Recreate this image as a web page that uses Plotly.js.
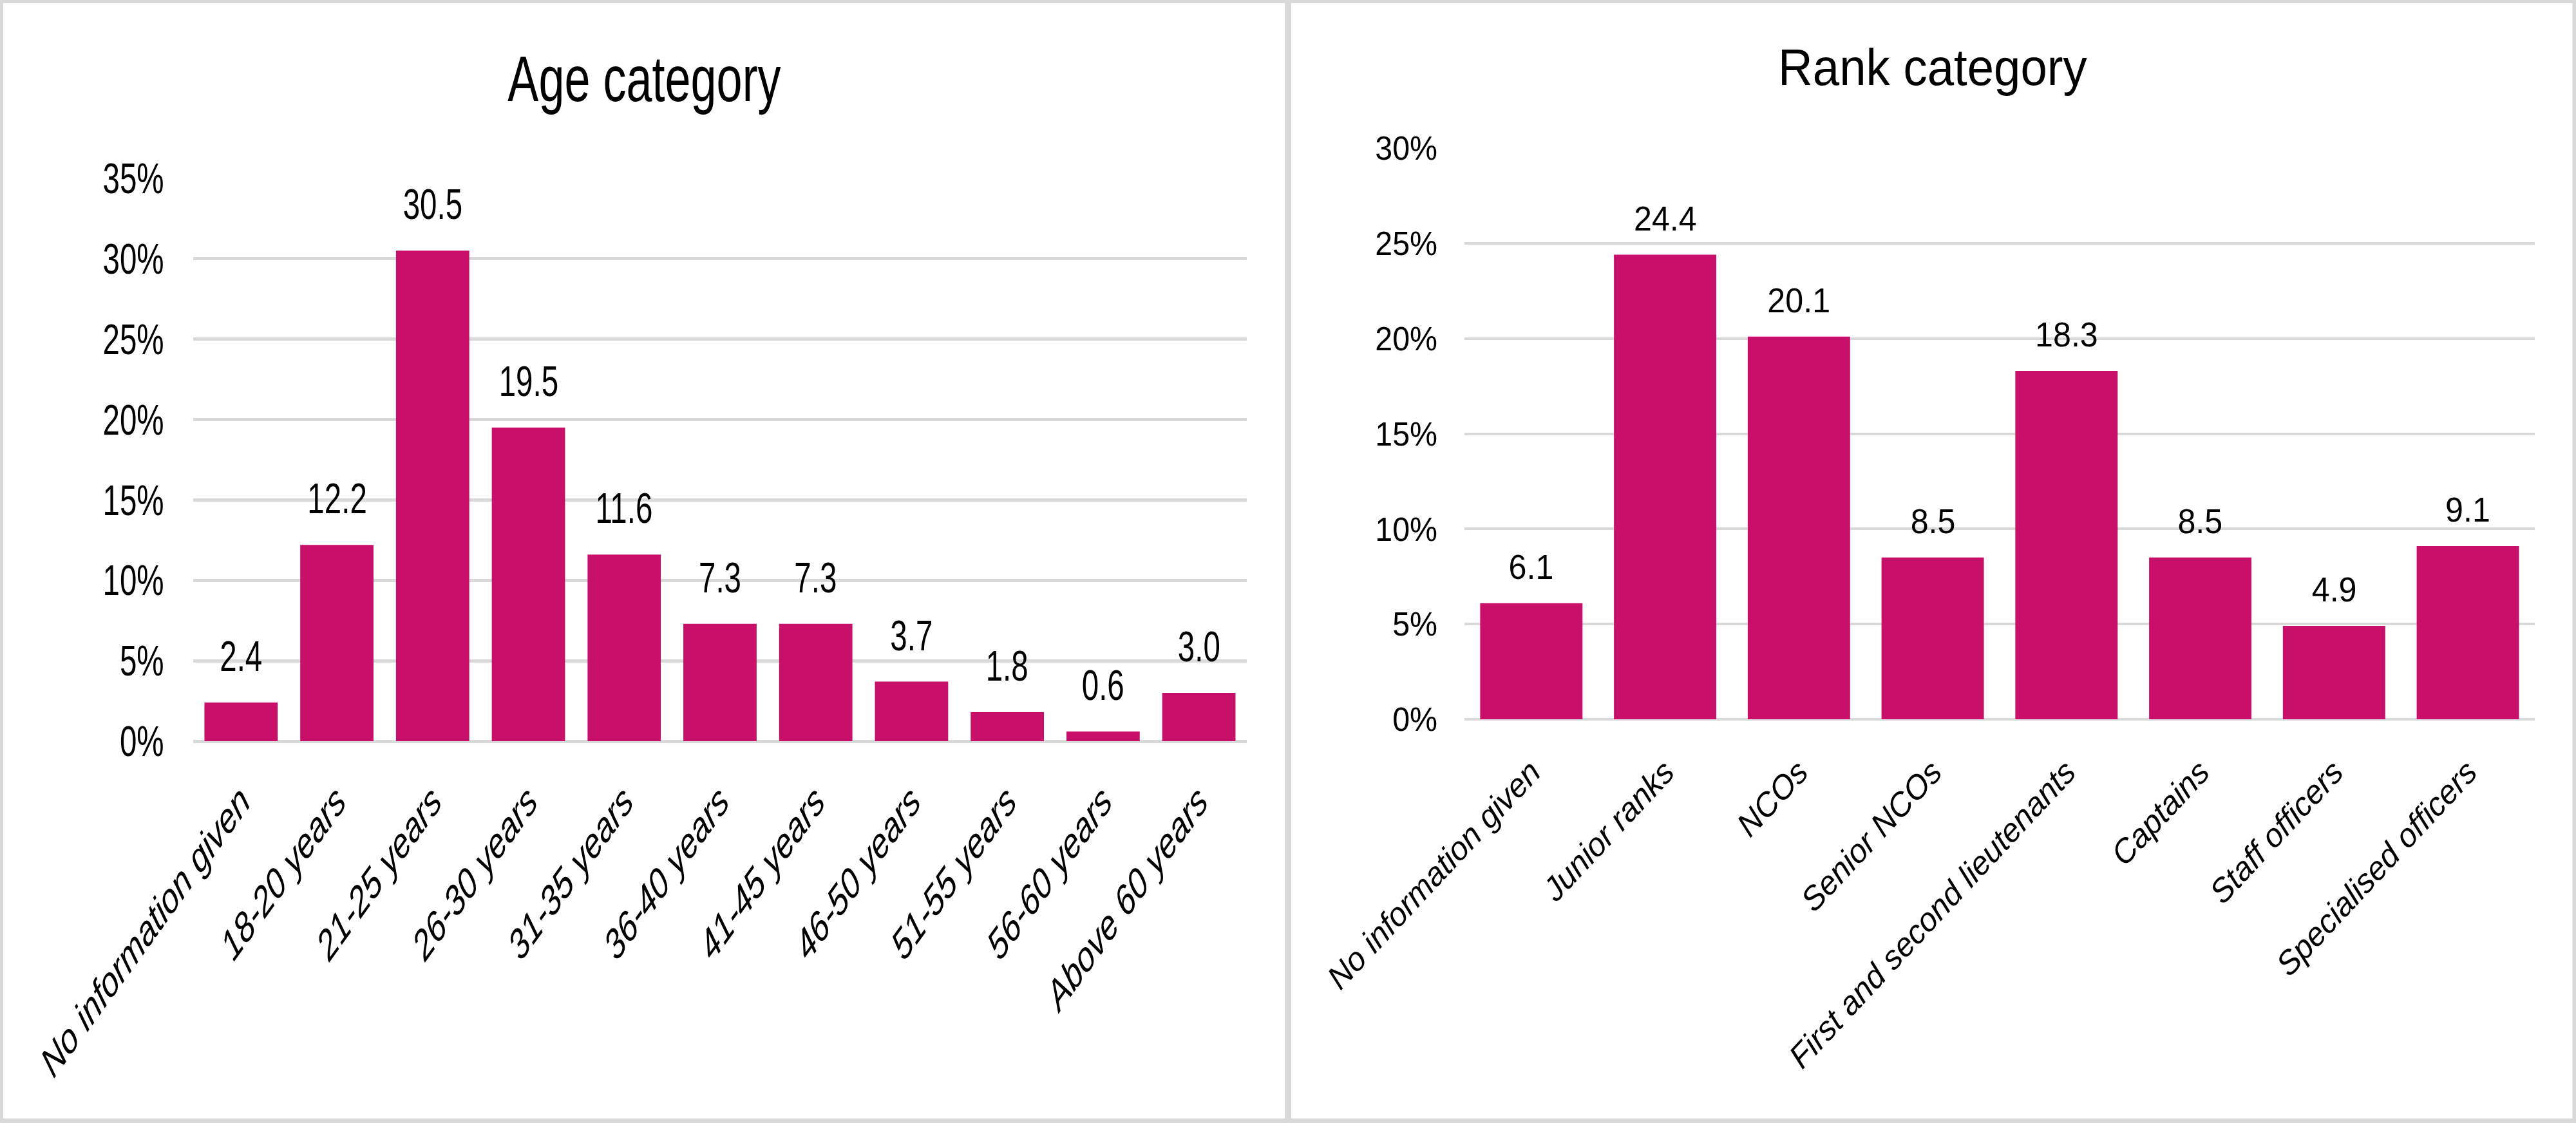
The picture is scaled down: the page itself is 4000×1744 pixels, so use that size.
<!DOCTYPE html>
<html>
<head>
<meta charset="utf-8">
<script src="https://cdn.plot.ly/plotly-3.0.1.min.js"></script>
<style>
  html, body { margin: 0; padding: 0; background: #d9d9d9; overflow: hidden; width: 4000px; height: 1744px; }
  .panel { position: absolute; top: 5px; background: #ffffff; transform-origin: 0 0; }
  #ageChart { left: 5px; width: 2764px; height: 1732px; transform: scaleX(0.72); }
  #rankChart { left: 2005px; width: 2139px; height: 1732px; transform: scaleX(0.93); }
</style>
</head>
<body>
<div id="ageChart" class="panel"></div>
<div id="rankChart" class="panel"></div>
<script>
// ---- Data ----
const ageTitle = "Age category";
const ageCategories = ["No information given", "18-20 years", "21-25 years", "26-30 years", "31-35 years",
  "36-40 years", "41-45 years", "46-50 years", "51-55 years", "56-60 years", "Above 60 years"];
const ageValues = [2.4, 12.2, 30.5, 19.5, 11.6, 7.3, 7.3, 3.7, 1.8, 0.6, 3.0];
const ageTickVals = [0, 5, 10, 15, 20, 25, 30, 35];
const ageTickLabels = ["0%", "5%", "10%", "15%", "20%", "25%", "30%", "35%"];

const rankTitle = "Rank category";
const rankCategories = ["No information given", "Junior ranks", "NCOs", "Senior NCOs",
  "First and second lieutenants", "Captains", "Staff officers", "Specialised officers"];
const rankValues = [6.1, 24.4, 20.1, 8.5, 18.3, 8.5, 4.9, 9.1];
const rankTickVals = [0, 5, 10, 15, 20, 25, 30];
const rankTickLabels = ["0%", "5%", "10%", "15%", "20%", "25%", "30%"];

// ---- Styles ----
const barColor = "#C80F6A";
const gridColor = "#d9d9d9";
const fontFamily = "'Liberation Sans', Arial, sans-serif";

function makeChart(divId, opts) {
  const trace = {
    type: "bar", x: opts.categories, y: opts.values,
    marker: { color: barColor }, hoverinfo: "skip"
  };
  const annotations = opts.categories.map((c, i) => ({
    xref: "x", yref: "y", x: c, y: opts.values[i], text: opts.values[i].toFixed(1),
    showarrow: false, yanchor: "bottom", yshift: opts.labelShift,
    font: { family: fontFamily, size: opts.labelSize, color: "#000" }
  }));
  annotations.push({
    xref: "paper", yref: "paper", x: opts.titleX, y: opts.titleY, text: opts.title,
    showarrow: false, xanchor: "center", yanchor: "middle",
    font: { family: fontFamily, size: opts.titleSize, color: "#000" }
  });
  const layout = {
    width: opts.width, height: 1732,
    margin: { l: 0, r: 0, t: 0, b: 0, pad: 0 },
    paper_bgcolor: "#ffffff",
    plot_bgcolor: "#ffffff",
    showlegend: false,
    bargap: 0.235,
    xaxis: {
      domain: opts.xDomain, type: "category",
      tickangle: -45, ticks: "", showgrid: false, zeroline: false, showline: false,
      ticklabelstandoff: opts.xStandoff,
      tickfont: { family: fontFamily, size: opts.xTickSize, color: "#000", style: "italic" }
    },
    yaxis: {
      domain: opts.yDomain,
      range: opts.range, tickmode: "array", tickvals: opts.tickVals, ticktext: opts.tickLabels,
      showgrid: true, gridcolor: gridColor, gridwidth: opts.gridWidth,
      zeroline: true, zerolinecolor: gridColor, zerolinewidth: opts.gridWidth,
      ticks: "", showline: false, ticklabelstandoff: opts.yStandoff,
      tickfont: { family: fontFamily, size: opts.yTickSize, color: "#000" }
    },
    annotations: annotations
  };
  Plotly.newPlot(divId, [trace], layout, { staticPlot: true, displayModeBar: false });
}

makeChart("ageChart", {
  categories: ageCategories, values: ageValues, tickVals: ageTickVals, tickLabels: ageTickLabels,
  title: ageTitle, width: 2764, range: [0, 35],
  xDomain: [409.7 / 2764, 2681.9 / 2764], yDomain: [1 - 1146 / 1732, 1 - 272 / 1732],
  titleX: 1382 / 2764, titleY: 1 - 116.5 / 1732, titleSize: 100,
  labelSize: 66, labelShift: 33, xTickSize: 66, yTickSize: 66,
  xStandoff: 40, yStandoff: 62, gridWidth: 5
});

makeChart("rankChart", {
  categories: rankCategories, values: rankValues, tickVals: rankTickVals, tickLabels: rankTickLabels,
  title: rankTitle, width: 2139, range: [0, 30],
  xDomain: [289.2 / 2139, 2076.3 / 2139], yDomain: [1 - 1112 / 1732, 1 - 225 / 1732],
  titleX: 1071 / 2139, titleY: 1 - 100 / 1732, titleSize: 80,
  labelSize: 54, labelShift: 25, xTickSize: 52, yTickSize: 52,
  xStandoff: 40, yStandoff: 44, gridWidth: 4
});
</script>
</body>
</html>
